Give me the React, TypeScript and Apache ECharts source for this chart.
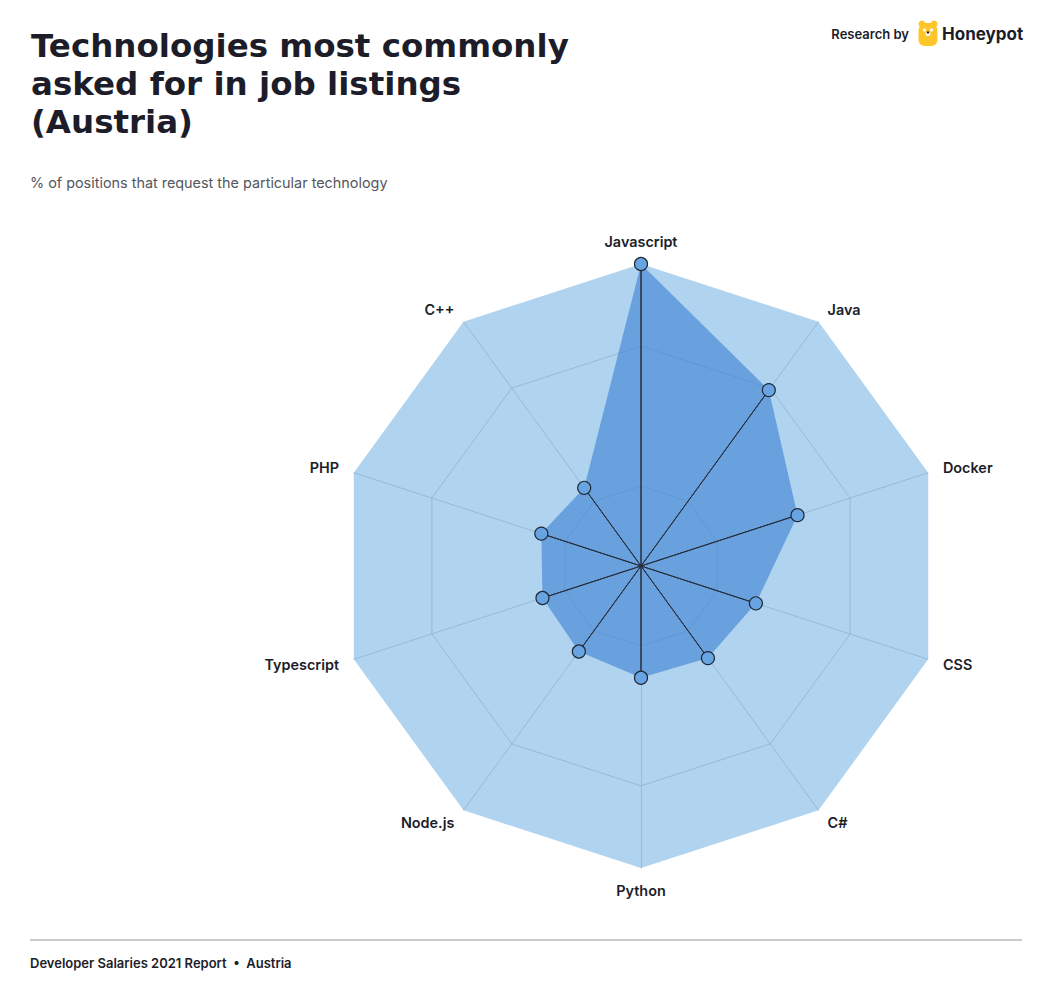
import React, { useEffect, useRef } from "react";
import * as echarts from "echarts";

const categories = ["Javascript", "Java", "Docker", "CSS", "C#", "Python", "Node.js", "Typescript", "PHP", "C++"];
const values = [100, 72, 54.5, 40, 37.7, 37, 35, 34.3, 34.7, 32];
const maxValue = 100;
const ringLevels = [26.5, 72.8];

const titleLines = ["Technologies most commonly", "asked for in job listings", "(Austria)"];
const subtitle = "% of positions that request the particular technology";
const footer = "Developer Salaries 2021 Report  \u2022  Austria";

const FONT = "Inter, 'Open Sans', sans-serif";
const TITLE_FONT = "'DejaVu Sans', sans-serif";
const CX = 641;
const CY = 566;
const R = 302;

export default function App() {
  const ref = useRef<HTMLDivElement>(null);
  useEffect(() => {
    document.body.style.margin = "0";
    const chart = echarts.init(ref.current!, null, { renderer: "svg" });
    const n = categories.length;
    // ECharts lays out indicators counter-clockwise; reorder to get clockwise
    const order = categories.map((_, k) => (k === 0 ? 0 : n - k));
    const indicator = order.map((i) => ({ name: categories[i], max: maxValue, min: 0 }));
    const gridColor = "rgba(90,120,150,0.28)";

    const radars: any[] = [
      {
        center: [CX, CY],
        radius: R,
        startAngle: 90,
        shape: "polygon",
        splitNumber: 1,
        indicator,
        axisName: {
          color: "#1c1d29",
          fontSize: 14.4,
          fontWeight: 600,
          fontFamily: FONT,
        },
        nameGap: 15.5,
        splitArea: { show: true, areaStyle: { color: ["#b0d3f0"] } },
        splitLine: { show: false },
        axisLine: { show: true, lineStyle: { color: gridColor, width: 1 } },
        axisTick: { show: false },
        axisLabel: { show: false },
      },
      ...ringLevels.map((lv) => ({
        center: [CX, CY],
        radius: (R * lv) / maxValue,
        startAngle: 90,
        shape: "polygon",
        splitNumber: 1,
        indicator: indicator.map((d) => ({ ...d, name: "" })),
        axisName: { show: false },
        splitArea: { show: false },
        splitLine: { show: true, lineStyle: { color: gridColor, width: 1 } },
        axisLine: { show: false },
        axisTick: { show: false },
        axisLabel: { show: false },
      })),
    ];

    const mainValues = order.map((i) => values[i]);
    const spokeSeries = categories.map((_, i) => ({
      type: "radar",
      radarIndex: 0,
      silent: true,
      symbol: "none",
      z: 3,
      lineStyle: { color: "#27303d", width: 1 },
      data: [{ value: order.map((j) => (j === i ? values[i] : 0)) }],
    }));

    chart.setOption({
      animation: false,
      backgroundColor: "#ffffff",
      radar: radars,
      series: [
        {
          type: "radar",
          radarIndex: 0,
          silent: true,
          symbol: "none",
          z: 2,
          lineStyle: { width: 0, opacity: 0 },
          areaStyle: { color: "rgba(58,128,210,0.6)", opacity: 1 },
          data: [{ value: mainValues }],
        },
        ...spokeSeries,
        {
          type: "radar",
          radarIndex: 0,
          silent: true,
          symbol: "circle",
          symbolSize: 13,
          z: 4,
          lineStyle: { width: 0, opacity: 0 },
          itemStyle: { color: "#68a4e1", borderColor: "#1f2733", borderWidth: 1.2 },
          data: [{ value: mainValues }],
        },
      ],
      graphic: [
        ...titleLines.map((t, i) => ({
          type: "text",
          x: 31,
          y: 46 + i * 38,
          style: {
            text: t,
            font: `700 32.5px ${TITLE_FONT}`,
            fill: "#1c1d29",
            verticalAlign: "middle",
          },
        })),
        {
          type: "text",
          x: 30,
          y: 182,
          style: { text: subtitle, font: `400 14.4px ${FONT}`, fill: "#55565e", verticalAlign: "middle" },
        },
        {
          type: "text",
          x: 909,
          y: 34,
          style: { text: "Research by", font: `600 13px ${FONT}`, fill: "#1c1d29", align: "right", verticalAlign: "middle" },
        },
        {
          type: "group",
          x: 918,
          y: 20,
          children: [
            { type: "circle", shape: { cx: 4, cy: 4, r: 3.5 }, style: { fill: "#ffc629" } },
            { type: "circle", shape: { cx: 16, cy: 4, r: 3.5 }, style: { fill: "#ffc629" } },
            { type: "rect", shape: { x: 0.5, y: 3, width: 19, height: 23, r: [8, 8, 6, 6] }, style: { fill: "#ffc629" } },
            { type: "circle", shape: { cx: 6.5, cy: 10, r: 1.6 }, style: { fill: "#ffffff" } },
            { type: "circle", shape: { cx: 13.5, cy: 10, r: 1.6 }, style: { fill: "#ffffff" } },
            { type: "rect", shape: { x: 7.5, y: 12, width: 5, height: 4, r: 2 }, style: { fill: "#ffffff" } },
            { type: "circle", shape: { cx: 10, cy: 12.5, r: 1.2 }, style: { fill: "#1c1d29" } },
          ],
        },
        {
          type: "text",
          x: 942,
          y: 34,
          style: { text: "Honeypot", font: `700 17px ${FONT}`, fill: "#1c1d29", verticalAlign: "middle" },
        },
        {
          type: "line",
          shape: { x1: 30, y1: 940, x2: 1022, y2: 940 },
          style: { stroke: "#cacaca", lineWidth: 2 },
        },
        {
          type: "text",
          x: 30,
          y: 963,
          style: { text: footer, font: `600 13px ${FONT}`, fill: "#1c1d29", verticalAlign: "middle" },
        },
      ],
    });
    return () => chart.dispose();
  }, []);
  return <div ref={ref} style={{ width: 1050, height: 984 }} />;
}
